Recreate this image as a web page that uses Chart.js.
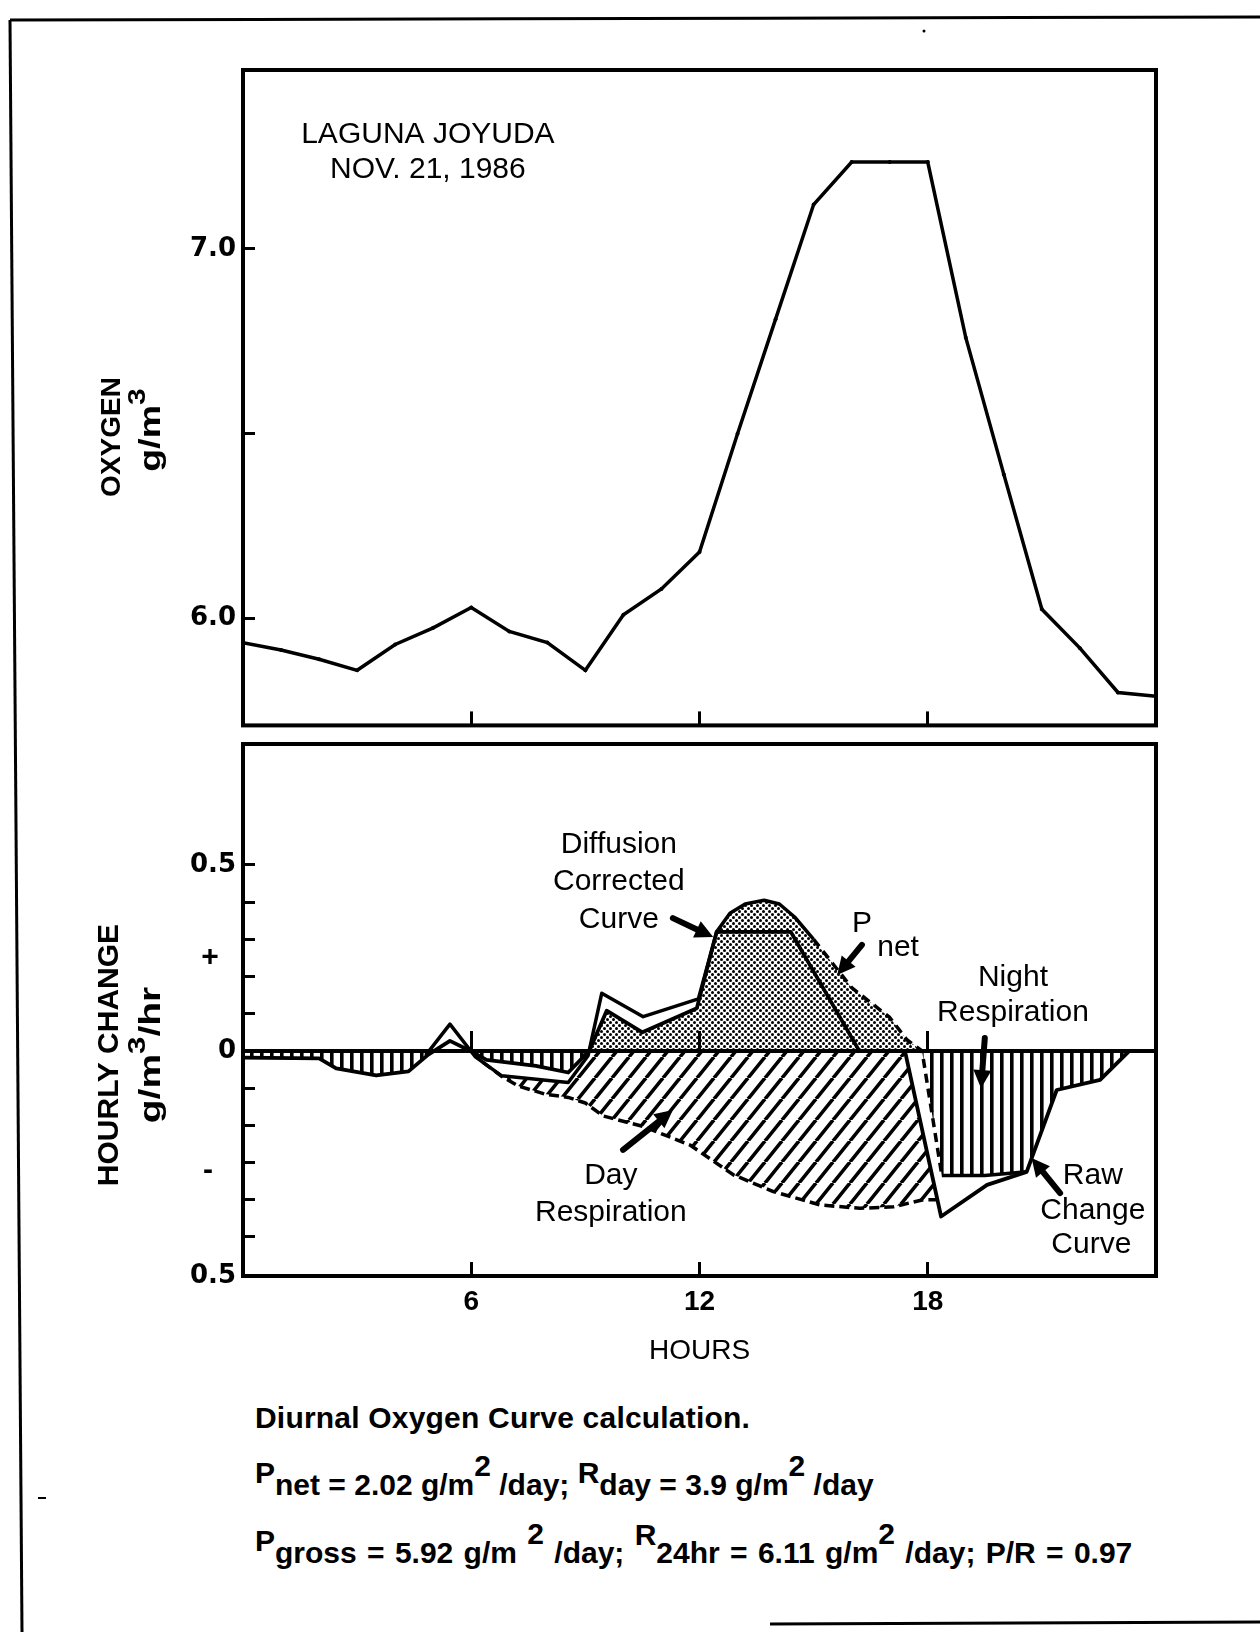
<!DOCTYPE html>
<html>
<head>
<meta charset="utf-8">
<script src="https://cdn.jsdelivr.net/npm/chart.js@4.4.1/dist/chart.umd.min.js"></script>
<style>
html,body{margin:0;padding:0;background:#fff;}
body{width:1260px;height:1632px;position:relative;overflow:hidden;font-family:'Liberation Sans',Arial,sans-serif;color:#000;}
canvas{position:absolute;left:0;}
#c1{top:0;}
#c2{top:700px;}
.cap{position:absolute;left:255px;font-weight:bold;font-size:30px;line-height:30px;white-space:nowrap;}
.up{position:relative;top:-12px;}
.up2{position:relative;top:-18px;}
.sup{position:relative;top:-19px;}
</style>
</head>
<body>
<svg width="1260" height="1632" style="position:absolute;left:0;top:0">
  <line x1="10" y1="20" x2="1260" y2="17" stroke="#000" stroke-width="3"/>
  <line x1="10" y1="20" x2="22" y2="1632" stroke="#000" stroke-width="3"/>
  <line x1="770" y1="1624" x2="1260" y2="1622" stroke="#000" stroke-width="3"/>
  <circle cx="924" cy="31" r="1.5" fill="#000"/>
  <rect x="38" y="1497" width="8" height="2" fill="#000"/>
</svg>
<canvas id="c1" width="1260" height="760"></canvas>
<canvas id="c2" width="1260" height="680"></canvas>
<div class="cap" style="top:1403px;letter-spacing:0.2px">Diurnal Oxygen Curve calculation.</div>
<div class="cap" style="top:1470px"><span class="up">P</span>net = 2.02 g/m<span class="sup">2</span> /day; <span class="up">R</span>day = 3.9 g/m<span class="sup">2</span> /day</div>
<div class="cap" style="top:1538px;word-spacing:2px"><span class="up">P</span>gross = 5.92 g/m <span class="sup">2</span> /day; <span class="up2">R</span>24hr = 6.11 g/m<span class="sup">2</span> /day; P/R = 0.97</div>
<script>
// ---------------- DATA ----------------
const hours  = [0,1,2,3,4,5,6,7,8,9,10,11,12,13,14,15,16,17,18,19,20,21,22,23,24];
const oxygen = [5.935,5.915,5.89,5.86,5.93,5.975,6.03,5.965,5.935,5.86,6.01,6.08,6.18,6.50,6.81,7.12,7.235,7.235,7.235,6.76,6.39,6.025,5.92,5.80,5.79];

const xTickValues = [6, 12, 18];
const o2TickValues = [6.0, 6.5, 7.0];
const o2TickLabels = ['6.0', '', '7.0'];
const changeTickValues = [-0.605,-0.5,-0.4,-0.3,-0.2,-0.1,0,0.1,0.2,0.3,0.4,0.5];
const changeTickLabels = ['0.5','','','','','','0','','','','','0.5'];

// raw hourly change curve (solid)
const rawChange = [
  {x:0,y:-0.018},{x:2.0,y:-0.02},{x:2.45,y:-0.047},{x:3.5,y:-0.066},{x:4.35,y:-0.055},
  {x:4.87,y:-0.01},{x:5.44,y:0.027},{x:5.98,y:0.0},{x:6.4,y:-0.024},{x:7.7,y:-0.04},
  {x:8.55,y:-0.058},{x:9.1,y:0.0},{x:9.56,y:0.108},{x:10.5,y:0.05},{x:11.93,y:0.115},
  {x:12.45,y:0.32},{x:14.4,y:0.32},{x:16.2,y:0.0},{x:17.4,y:0.0},{x:18.35,y:-0.445},
  {x:19.56,y:-0.36},{x:20.6,y:-0.325},{x:21.39,y:-0.105},{x:22.53,y:-0.078},{x:23.3,y:0.0},{x:24,y:0.0}
];
// diffusion corrected curve
const corrected = [
  {x:4.8,y:-0.012},{x:5.44,y:0.072},{x:6.1,y:-0.015},{x:6.3,y:-0.03},{x:6.8,y:-0.067},
  {x:8.55,y:-0.085},{x:9.07,y:-0.013},{x:9.43,y:0.155},{x:10.52,y:0.092},{x:11.97,y:0.14},
  {x:12.45,y:0.32},{x:12.8,y:0.37},{x:13.2,y:0.395},{x:13.7,y:0.405},{x:14.1,y:0.395},
  {x:14.5,y:0.36},{x:15.0,y:0.30},{x:15.5,y:0.235},{x:16.0,y:0.17},{x:16.5,y:0.13},
  {x:17.0,y:0.09},{x:17.45,y:0.03},{x:17.85,y:0.0},{x:18.37,y:-0.335},{x:19.5,y:-0.335},{x:20.6,y:-0.325}
];
// day respiration curve (dashed)
const dayResp = [
  {x:6.3,y:-0.03},{x:6.8,y:-0.068},{x:7.23,y:-0.094},{x:7.94,y:-0.116},{x:8.55,y:-0.125},
  {x:9.0,y:-0.14},{x:9.47,y:-0.175},{x:10.52,y:-0.203},{x:11.75,y:-0.253},{x:12.89,y:-0.333},
  {x:13.94,y:-0.378},{x:15.17,y:-0.414},{x:16.22,y:-0.423},{x:17.1,y:-0.419},{x:17.88,y:-0.40},{x:18.25,y:-0.40}
];
// upper edge of the day respiration hatched area
const dayRespTop = [
  {x:6.3,y:-0.03},{x:6.8,y:-0.067},{x:8.55,y:-0.085},{x:9.07,y:-0.013},{x:9.1,y:0},{x:17.4,y:0},{x:18.25,y:-0.40}
];
// derived edges for the night respiration and P net areas
const nightEdge = rawChange.filter(p => p.x <= 9.1)
  .concat(corrected.filter(p => p.x >= 17.85))
  .concat(rawChange.filter(p => p.x > 20.6));
const pnetEdge = rawChange.filter(p => p.x >= 9.1 && p.x < 12.45)
  .concat(corrected.filter(p => p.x >= 12.45 && p.x <= 17.85));

// ---------------- STYLE HELPERS ----------------
Chart.defaults.font.family = "'Liberation Sans', Arial, sans-serif";
Chart.defaults.color = '#000';

function makePattern(w, h, draw) {
  const c = document.createElement('canvas'); c.width = w; c.height = h;
  const g = c.getContext('2d'); draw(g, w, h);
  return g.createPattern(c, 'repeat');
}
const diagPat = makePattern(17, 21, (g, w, h) => {
  g.strokeStyle = '#000'; g.lineWidth = 3.6; g.beginPath();
  g.moveTo(0, h); g.lineTo(w, 0); g.moveTo(-w, h); g.lineTo(0, 0); g.moveTo(w, h); g.lineTo(2 * w, 0); g.stroke();
});
const vertPat = makePattern(10, 4, (g) => { g.fillStyle = '#000'; g.fillRect(0, 0, 3.6, 4); });
const stipPat = makePattern(6, 6, (g) => {
  g.fillStyle = '#000';
  g.beginPath(); g.arc(1.5, 1.5, 1.5, 0, 7); g.fill();
  g.beginPath(); g.arc(4.5, 4.5, 1.5, 0, 7); g.fill();
});

function drawArrow(ctx, x1, y1, x2, y2) {
  const a = Math.atan2(y2 - y1, x2 - x1), L = 18, W = 9;
  const bx = x2 - L * Math.cos(a), by = y2 - L * Math.sin(a);
  ctx.lineWidth = 6; ctx.lineCap = 'round';
  ctx.beginPath(); ctx.moveTo(x1, y1); ctx.lineTo(bx, by); ctx.stroke();
  ctx.beginPath(); ctx.moveTo(x2, y2);
  ctx.lineTo(bx + W * Math.sin(a), by - W * Math.cos(a));
  ctx.lineTo(bx - W * Math.sin(a), by + W * Math.cos(a));
  ctx.closePath(); ctx.fill();
}

function drawRich(ctx, parts, cx, cy, stretch) {
  let total = 0;
  parts.forEach(p => { ctx.font = p.f; p.w = ctx.measureText(p.t).width; total += p.w; });
  ctx.save(); ctx.translate(cx, cy); ctx.scale(stretch || 1, 1);
  let x = -total / 2;
  ctx.textAlign = 'left';
  parts.forEach(p => { ctx.font = p.f; ctx.fillText(p.t, x, (p.dy || 0)); x += p.w; });
  ctx.restore();
}

function framePlugin() {
  return { id: 'frame', afterDatasetsDraw(chart) {
    const a = chart.chartArea, ctx = chart.ctx;
    ctx.save(); ctx.strokeStyle = '#000'; ctx.lineWidth = 4;
    ctx.strokeRect(a.left, a.top, a.right - a.left, a.bottom - a.top); ctx.restore();
  }};
}

function textPlugin(items, arrows, rotated) {
  return { id: 'texts', afterDraw(chart) {
    const ctx = chart.ctx, xs = chart.scales.x, ys = chart.scales.y;
    ctx.save(); ctx.fillStyle = '#000'; ctx.strokeStyle = '#000';
    ctx.textBaseline = 'middle';
    items.forEach(it => {
      ctx.font = it.font; ctx.textAlign = 'center';
      const px = it.px != null ? it.px : xs.getPixelForValue(it.x);
      const py = it.py != null ? it.py : ys.getPixelForValue(it.y);
      ctx.fillText(it.t, px, py);
    });
    arrows.forEach(a => drawArrow(ctx, xs.getPixelForValue(a.from[0]), ys.getPixelForValue(a.from[1]),
                                       xs.getPixelForValue(a.to[0]), ys.getPixelForValue(a.to[1])));
    rotated.forEach(r => {
      ctx.save(); ctx.translate(r.px, r.py); ctx.rotate(-Math.PI / 2);
      drawRich(ctx, r.parts, 0, 0, r.stretch); ctx.restore();
    });
    ctx.restore();
  }};
}

const annFont = "30px 'Liberation Sans', Arial, sans-serif";
const titleFont1 = "bold 28px 'Liberation Sans', Arial, sans-serif";
const titleFont2 = "bold 30px 'Liberation Sans', Arial, sans-serif";
const unitFont = "bold 30px 'Liberation Sans', Arial, sans-serif";
const supFont = "bold 24px 'Liberation Sans', Arial, sans-serif";
const tickFontY = {family: "'DejaVu Sans', sans-serif", weight: 'bold', size: 26};

// ---------------- TOP CHART ----------------
new Chart(document.getElementById('c1'), {
  type: 'line',
  data: { datasets: [{
    data: hours.map((h, i) => ({x: h, y: oxygen[i]})),
    borderColor: '#000', borderWidth: 3.5, pointRadius: 2, pointBackgroundColor: '#000',
    pointBorderWidth: 0, tension: 0, fill: false
  }]},
  options: {
    responsive: false, animation: false, devicePixelRatio: 1,
    layout: { padding: {top: 70, right: 104, bottom: 0, left: 0} },
    plugins: { legend: {display: false}, tooltip: {enabled: false} },
    scales: {
      x: { type: 'linear', min: 0, max: 24,
        afterBuildTicks: s => { s.ticks = xTickValues.map(v => ({value: v})); },
        ticks: { callback: () => '', autoSkip: false, maxRotation: 0 },
        grid: { drawOnChartArea: false, tickLength: -14, tickWidth: 3, tickColor: '#000' },
        border: { display: false },
        afterFit: s => { s.height = 16; } },
      y: { type: 'linear', min: 5.711, max: 7.484,
        afterBuildTicks: s => { s.ticks = o2TickValues.map(v => ({value: v})); },
        ticks: { callback: (v, i) => o2TickLabels[i], font: tickFontY, color: '#000', padding: 19 },
        grid: { drawOnChartArea: false, tickLength: -12, tickWidth: 3, tickColor: '#000' },
        border: { display: false },
        afterFit: s => { s.width = 243; } }
    }
  },
  plugins: [framePlugin(), textPlugin(
    [ {t: 'LAGUNA JOYUDA', x: 4.86, y: 7.31, font: annFont},
      {t: 'NOV. 21, 1986', x: 4.86, y: 7.215, font: annFont} ],
    [],
    [ {px: 112, py: 437, parts: [{t: 'OXYGEN', f: titleFont1}]},
      {px: 152, py: 430, stretch: 1.25, parts: [{t: 'g/m', f: unitFont}, {t: '3', f: supFont, dy: -14}]} ]
  )]
});

// ---------------- BOTTOM CHART ----------------
const transparent = 'rgba(0,0,0,0)';
new Chart(document.getElementById('c2'), {
  type: 'line',
  data: { datasets: [
    { data: dayRespTop, borderColor: transparent, borderWidth: 0, pointRadius: 0, fill: false, order: 20 },
    { data: dayResp, borderColor: '#000', borderWidth: 3.5, borderDash: [10, 5], pointRadius: 0,
      fill: '-1', backgroundColor: diagPat, order: 15 },
    { data: nightEdge, borderColor: transparent, borderWidth: 0, pointRadius: 0,
      fill: {target: 'origin', above: transparent, below: vertPat}, order: 14 },
    { data: pnetEdge, borderColor: transparent, borderWidth: 0, pointRadius: 0,
      fill: {target: 'origin', above: stipPat, below: transparent}, order: 13 },
    { data: corrected, borderColor: '#000', borderWidth: 3.5, pointRadius: 0, fill: false, order: 2,
      segment: { borderDash: c => (c.p0.parsed.x >= 14.95 && c.p1.parsed.x <= 18.4) ? [9, 6] : undefined } },
    { data: rawChange, borderColor: '#000', borderWidth: 3.8, pointRadius: 0, fill: false, order: 1 }
  ]},
  options: {
    responsive: false, animation: false, devicePixelRatio: 1,
    layout: { padding: {top: 44, right: 104, bottom: 0, left: 0} },
    plugins: { legend: {display: false}, tooltip: {enabled: false} },
    elements: { line: { tension: 0, borderJoinStyle: 'round' } },
    scales: {
      x: { type: 'linear', min: 0, max: 24, position: 'bottom',
        afterBuildTicks: s => { s.ticks = xTickValues.map(v => ({value: v})); },
        ticks: { callback: v => String(v), autoSkip: false, maxRotation: 0, padding: 23,
                 font: {family: "'Liberation Sans', Arial, sans-serif", weight: 'bold', size: 28}, color: '#000' },
        grid: { drawOnChartArea: false, tickLength: -14, tickWidth: 3, tickColor: '#000' },
        border: { display: false },
        title: { display: true, text: 'HOURS', color: '#000',
                 font: {family: "'Liberation Sans', Arial, sans-serif", size: 28}, padding: {top: 0, bottom: 12} },
        afterFit: s => { s.height = 104; } },
      x0: { type: 'linear', axis: 'x', position: {y: 0}, min: 0, max: 24,
        afterBuildTicks: s => { s.ticks = xTickValues.map(v => ({value: v})); },
        ticks: { display: false },
        grid: { drawOnChartArea: false, tickLength: -22, tickWidth: 3, tickColor: '#000', z: 1 },
        border: { display: true, color: '#000', width: 4, z: 1 } },
      y: { type: 'linear', min: -0.605, max: 0.825,
        afterBuildTicks: s => { s.ticks = changeTickValues.map(v => ({value: v})); },
        ticks: { callback: (v, i) => changeTickLabels[i], font: tickFontY, color: '#000', padding: 19, autoSkip: false },
        grid: { drawOnChartArea: false, tickLength: -12, tickWidth: 3,
                tickColor: c => (c.tick && c.tick.value < -0.55) ? transparent : '#000' },
        border: { display: false },
        afterFit: s => { s.width = 243; } }
    }
  },
  plugins: [framePlugin(), textPlugin(
    [ {t: 'Diffusion', x: 9.88, y: 0.554, font: annFont},
      {t: 'Corrected', x: 9.88, y: 0.454, font: annFont},
      {t: 'Curve', x: 9.88, y: 0.352, font: annFont},
      {t: 'P', x: 16.27, y: 0.341, font: annFont},
      {t: 'net', x: 17.22, y: 0.277, font: annFont},
      {t: 'Night', x: 20.24, y: 0.196, font: annFont},
      {t: 'Respiration', x: 20.24, y: 0.102, font: annFont},
      {t: 'Day', x: 9.67, y: -0.336, font: annFont},
      {t: 'Respiration', x: 9.67, y: -0.435, font: annFont},
      {t: 'Raw', x: 22.34, y: -0.336, font: annFont},
      {t: 'Change', x: 22.34, y: -0.43, font: annFont},
      {t: 'Curve', x: 22.3, y: -0.522, font: annFont},
      {t: '+', px: 210, py: 258, font: "bold 30px 'Liberation Sans', Arial, sans-serif"},
      {t: '-', px: 208, py: 471, font: "bold 30px 'Liberation Sans', Arial, sans-serif"} ],
    [ {from: [11.3, 0.357], to: [12.36, 0.306]},
      {from: [16.27, 0.285], to: [15.62, 0.204]},
      {from: [19.5, 0.035], to: [19.4, -0.10]},
      {from: [9.99, -0.266], to: [11.30, -0.159]},
      {from: [21.48, -0.382], to: [20.73, -0.288]} ],
    [ {px: 110, py: 355, parts: [{t: 'HOURLY CHANGE', f: titleFont2}]},
      {px: 152, py: 355, stretch: 1.3, parts: [{t: 'g/m', f: unitFont}, {t: '3', f: supFont, dy: -14}, {t: '/hr', f: unitFont}]} ]
  )]
});
</script>
</body>
</html>
